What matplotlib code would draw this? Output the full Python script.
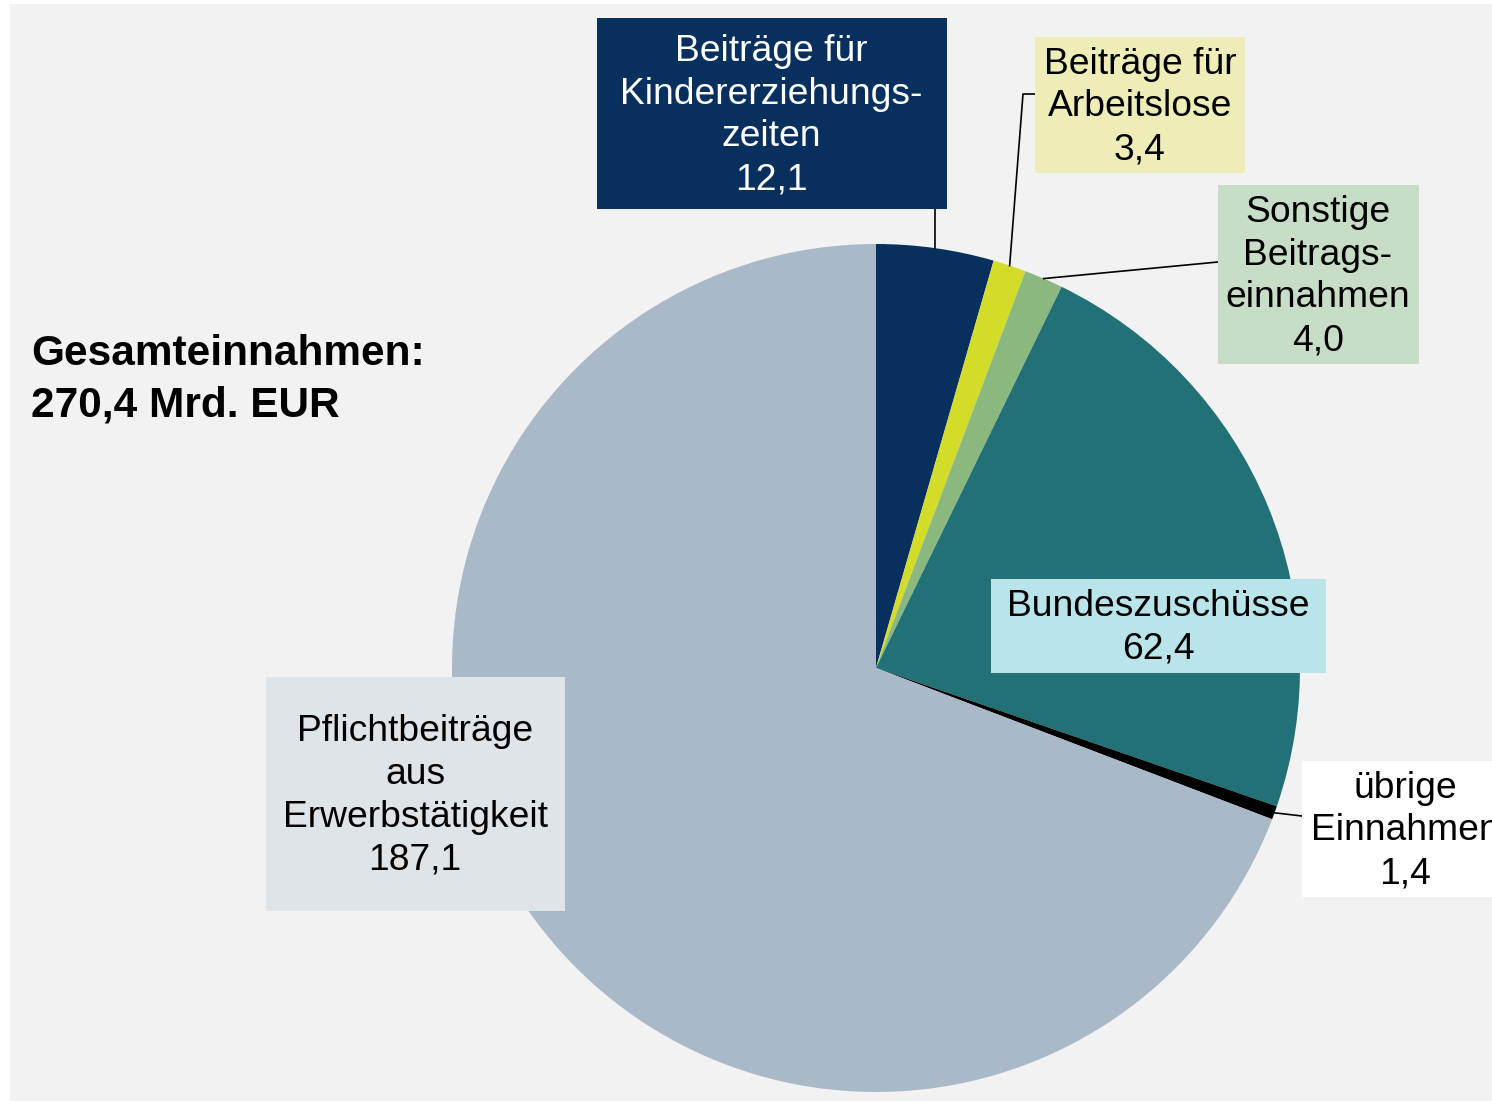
import matplotlib.pyplot as plt
from matplotlib.patches import Rectangle
import numpy as np

plt.rcParams['font.family'] = ['Liberation Sans', 'DejaVu Sans']

# Einnahmen der Rentenversicherung (Mrd. EUR)
labels = [
    'Beiträge für\nKindererziehungs-\nzeiten',
    'Beiträge für\nArbeitslose',
    'Sonstige\nBeitrags-\neinnahmen',
    'Bundeszuschüsse',
    'übrige\nEinnahmen',
    'Pflichtbeiträge\naus\nErwerbstätigkeit',
]
values = [12.1, 3.4, 4.0, 62.4, 1.4, 187.1]
wedge_colors = ['#08305f', '#d4dc2a', '#8bb87e', '#217177', '#000000', '#a9b9c8']
box_colors = ['#08305f', '#eeedb8', '#c8ddc8', '#b9e5ea', '#ffffff', '#dfe4e8']
text_colors = ['white', 'black', 'black', 'black', 'black', 'black']
total_label = 'Gesamteinnahmen:\n270,4 Mrd. EUR'

W, H = 1492, 1102
fig = plt.figure(figsize=(W / 100, H / 100), dpi=100)
ax = fig.add_axes([0, 0, 1, 1])

def py(y):
    # pixel row -> data y
    return H - y

# grey panel
ax.add_patch(Rectangle((10, py(1101)), W - 10, 1097, facecolor='#f2f2f2',
                       edgecolor='none', zorder=0))

cx, cy, r = 876, py(668), 424
wedges, _ = ax.pie(values, colors=wedge_colors, startangle=90, counterclock=False,
                   center=(cx, cy), radius=r, frame=True,
                   wedgeprops=dict(linewidth=0))
ax.set_xlim(0, W)
ax.set_ylim(0, H)
ax.set_aspect('equal')
ax.axis('off')

# label boxes: (x0, y0, x1, y1) in pixel rows
boxes = [
    (597, 18, 947, 209),
    (1035, 37, 1245, 173),
    (1218, 185, 1419, 364),
    (991, 579, 1326, 673),
    (1302, 761, 1510, 897),
    (266, 677, 565, 911),
]
text_x = [771, 1140, 1318, 1158, 1405, 415]

for i, (lab, val) in enumerate(zip(labels, values)):
    x0, y0, x1, y1 = boxes[i]
    ax.add_patch(Rectangle((x0, py(y1)), x1 - x0, y1 - y0, facecolor=box_colors[i],
                           edgecolor='none', zorder=3))
    txt = lab + '\n' + f'{val:.1f}'.replace('.', ',')
    ax.text(text_x[i], py((y0 + y1) / 2 + 2), txt, ha='center', va='center',
            fontsize=26.8, color=text_colors[i], linespacing=1.29, zorder=4)

# leader lines from wedge mid-angles
def mid_point(w):
    a = np.deg2rad((w.theta1 + w.theta2) / 2)
    return cx + r * np.cos(a), cy + r * np.sin(a)

lw = 1.2
x, y = mid_point(wedges[0])
ax.plot([x, x], [y, py(209)], color='black', lw=lw, zorder=2)
x, y = mid_point(wedges[1])
ax.plot([x, 1023, 1035], [y, py(94), py(94)], color='black', lw=lw, zorder=2)
x, y = mid_point(wedges[2])
ax.plot([x, 1218], [y, py(262)], color='black', lw=lw, zorder=2)
x, y = mid_point(wedges[4])
ax.plot([x, 1302], [y, py(816)], color='black', lw=lw, zorder=2)

ax.text(31, py(380), total_label, ha='left', va='center', fontsize=30.5,
        fontweight='bold', linespacing=1.37, zorder=4)

fig.savefig('out.png', dpi=100, facecolor='white')
